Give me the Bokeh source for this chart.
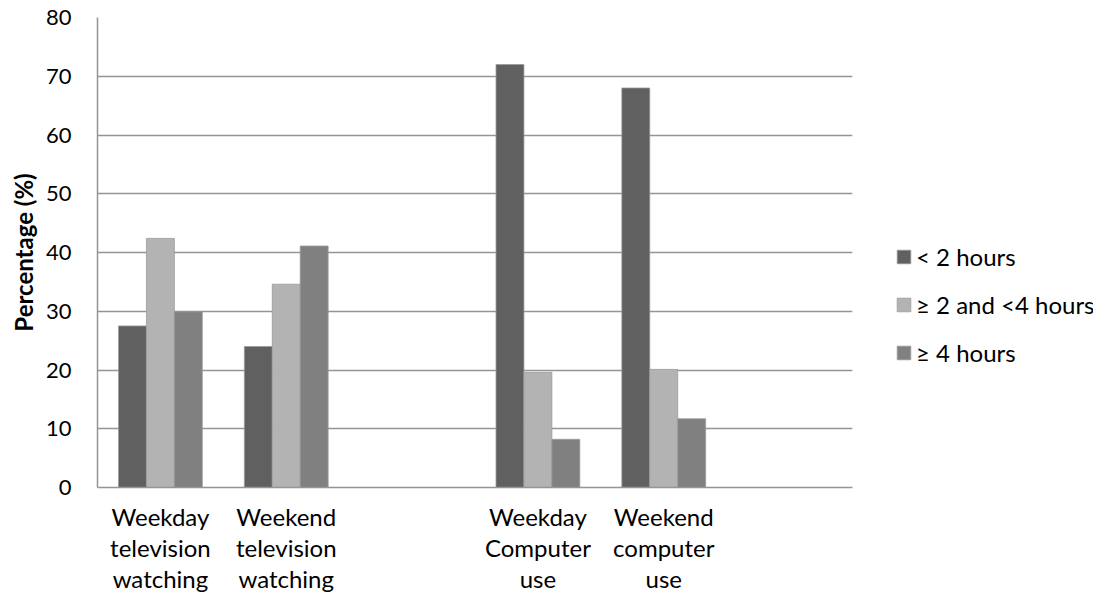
import numpy as np
from bokeh.plotting import figure
from bokeh.layouts import row
from bokeh.models import FactorRange, Range1d, Legend, LegendItem, ColumnDataSource, SingleIntervalTicker
from bokeh.transform import dodge
from bokeh.embed import file_html
from bokeh.resources import INLINE

categories = ["Weekday\ntelevision\nwatching", "Weekend\ntelevision\nwatching", " ",
              "Weekday\nComputer\nuse", "Weekend\ncomputer\nuse", "  "]
series_names = ["< 2 hours", "\u2265 2 and <4 hours", "\u2265 4 hours"]
under_2 = [27.5, 24.0, np.nan, 72.0, 68.0, np.nan]
between_2_4 = [42.4, 34.6, np.nan, 19.6, 20.1, np.nan]
over_4 = [29.9, 41.1, np.nan, 8.2, 11.7, np.nan]
colors = ["#606060", "#b3b3b3", "#808080"]

source = ColumnDataSource(dict(cat=categories, a=under_2, b=between_2_4, c=over_4))

FONT = "Lato"
p = figure(x_range=FactorRange(*categories, range_padding=0), y_range=Range1d(0, 80),
           width=853, height=595, output_backend="svg", toolbar_location=None,
           min_border_left=97, min_border_right=1, min_border_top=17, min_border_bottom=103)
p.outline_line_color = None

bw = 0.222
for col, off, color in zip(["a", "b", "c"], [-bw, 0, bw], colors):
    p.vbar(x=dodge("cat", off, range=p.x_range), top=col, bottom=0, width=bw,
           source=source, fill_color=color, line_color="#9a9a9a", line_width=0.8)

p.yaxis.ticker = SingleIntervalTicker(interval=10)
p.ygrid.grid_line_color = "#959595"
p.ygrid.grid_line_width = 1.5
p.xgrid.grid_line_color = None

p.yaxis.axis_label = "Percentage (%)"
p.yaxis.axis_label_text_font = FONT
p.yaxis.axis_label_text_font_style = "bold"
p.yaxis.axis_label_text_font_size = "24px"
p.yaxis.axis_label_text_color = "#000000"
p.yaxis.axis_label_standoff = 5
p.yaxis.major_label_text_font = FONT
p.yaxis.major_label_text_font_size = "22px"
p.yaxis.major_label_text_color = "#000000"
p.yaxis.major_label_standoff = 20
p.yaxis.major_tick_line_color = None
p.yaxis.minor_tick_line_color = None
p.yaxis.axis_line_color = "#959595"
p.yaxis.axis_line_width = 1.5

p.xaxis.major_label_text_font = FONT
p.xaxis.major_label_text_font_size = "24px"
p.xaxis.major_label_text_color = "#000000"
p.xaxis.major_label_text_line_height = 1.076
p.xaxis.major_label_standoff = 8
p.xaxis.major_tick_line_color = None
p.xaxis.axis_line_color = "#959595"
p.xaxis.axis_line_width = 1.5

# legend panel (separate figure to the right of the chart)
p2 = figure(width=240, height=595, output_backend="svg", toolbar_location=None,
            min_border_left=0, min_border_right=0, min_border_top=0, min_border_bottom=0,
            x_range=Range1d(0, 1), y_range=Range1d(0, 1))
p2.axis.visible = False
p2.grid.visible = False
p2.outline_line_color = None
proxies = [p2.vbar(x=[0], top=[0], bottom=[0], width=0, fill_color=c, line_color="#9a9a9a",
                   line_width=0.8)
           for c in colors]
legend = Legend(items=[LegendItem(label=n, renderers=[r]) for n, r in zip(series_names, proxies)],
                location=(42, 120))
legend.label_text_font = FONT
legend.label_text_font_size = "24px"
legend.label_text_color = "#000000"
legend.glyph_width = 17
legend.glyph_height = 17
legend.spacing = 19
legend.padding = 0
legend.margin = 0
legend.label_standoff = 4
legend.border_line_color = None
legend.background_fill_alpha = 0
p2.add_layout(legend, "center")

layout = row(p, p2, spacing=0)
open("out.html", "w").write(file_html(layout, INLINE))
